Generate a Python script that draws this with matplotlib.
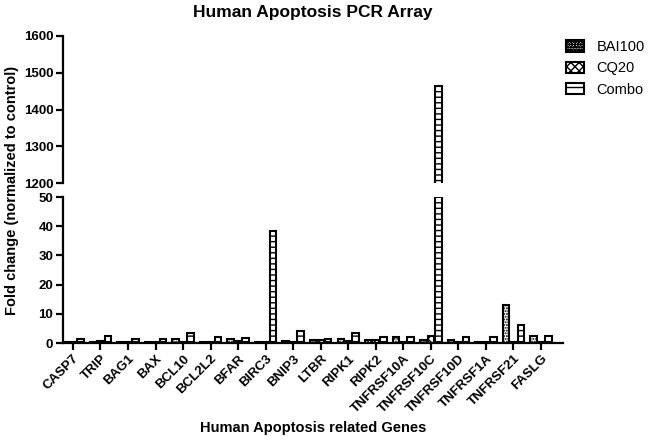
import matplotlib
matplotlib.use("Agg")
import matplotlib.pyplot as plt
from matplotlib.patches import Patch
import numpy as np

plt.rcParams['font.family'] = ['Liberation Sans', 'DejaVu Sans']
plt.rcParams['hatch.linewidth'] = 1.0

genes = ["CASP7", "TRIP", "BAG1", "BAX", "BCL10", "BCL2L2", "BFAR", "BIRC3", "BNIP3",
         "LTBR", "RIPK1", "RIPK2", "TNFRSF10A", "TNFRSF10C", "TNFRSF10D", "TNFRSF1A",
         "TNFRSF21", "FASLG"]
bai100 = [0.3, 0.4, 0.3, 0.3, 1.2, 0.5, 1.2, 0.2, 0.7, 0.9, 1.5, 0.9, 2.0, 1.1, 0.9, 0.5, 13.0, 2.5]
cq20 = [0.2, 0.6, 0.2, 0.3, 0.5, 0.5, 0.8, 0.2, 0.5, 0.9, 0.8, 0.9, 0.5, 2.3, 0.3, 0.3, 0.5, 0.5]
combo = [1.3, 2.4, 1.4, 1.4, 3.4, 2.1, 1.7, 38.2, 4.0, 1.4, 3.5, 2.0, 2.1, 1465, 2.0, 1.9, 6.3, 2.5]
series = [("BAI100", bai100, "......"), ("CQ20", cq20, "xxx"), ("Combo", combo, "---")]
legend_hatches = ["oooooo", "xxxx", "--"]

upper_ticks = [1200, 1300, 1400, 1500, 1600]
lower_ticks = [0, 10, 20, 30, 40, 50]

fig = plt.figure(figsize=(6.5, 4.4), dpi=100)
L, R = 63 / 650, 563 / 650
ax_top = fig.add_axes([L, 1 - 183 / 440, R - L, (183 - 36) / 440])
ax_bot = fig.add_axes([L, 1 - 343 / 440, R - L, (343 - 197) / 440])

x = np.arange(len(genes))
w = 0.24
offs = [-0.27, 0.0, 0.27]
for ax in (ax_top, ax_bot):
    for (name, vals, hatch), o in zip(series, offs):
        ax.bar(x + o, vals, width=w, facecolor="white", edgecolor="black",
               linewidth=1.5, hatch=hatch, label=name)
    ax.set_xlim(-0.36, 17.8)
    for s in ("top", "right"):
        ax.spines[s].set_visible(False)
    ax.spines["left"].set_linewidth(1.6)
    ax.tick_params(axis="y", width=1.6, length=5, labelsize=9.5, pad=2)

ax_top.set_ylim(1200, 1600)
ax_top.set_yticks(upper_ticks)
ax_top.spines["bottom"].set_visible(False)
ax_top.tick_params(axis="x", bottom=False, labelbottom=False)
for lab in ax_top.get_yticklabels():
    lab.set_fontweight("bold")

ax_bot.set_ylim(0, 50)
ax_bot.set_yticks(lower_ticks)
ax_bot.spines["bottom"].set_linewidth(1.6)
ax_bot.set_xticks(x)
ax_bot.set_xticklabels(genes, rotation=45, ha="right", rotation_mode="anchor",
                       fontweight="bold", fontsize=9.5)
ax_bot.tick_params(axis="x", width=1.6, length=5, pad=2)
for lab in ax_bot.get_yticklabels():
    lab.set_fontweight("bold")

handles = [Patch(facecolor="white", edgecolor="black", linewidth=1.5, hatch=h)
           for h in legend_hatches]
fig.legend(handles=handles, labels=[s[0] for s in series], loc="upper left",
           bbox_to_anchor=(566 / 650, 1 - 40 / 440), frameon=False, fontsize=10.5,
           handlelength=1.2, handleheight=0.8, labelspacing=0.5, handletextpad=0.9,
           borderpad=0, borderaxespad=0)

fig.text(313 / 650, 1 - 12 / 440, "Human Apoptosis PCR Array", ha="center",
         va="center", fontsize=12.5, fontweight="bold")
fig.text(0.5 * (L + R), 1 - 428 / 440, "Human Apoptosis related Genes", ha="center",
         va="center", fontsize=10.5, fontweight="bold")
fig.text(12 / 650, 1 - 190 / 440, "Fold change (normalized to control)", ha="center",
         va="center", rotation=90, fontsize=10.5, fontweight="bold")

fig.savefig("out.png", dpi=100)
